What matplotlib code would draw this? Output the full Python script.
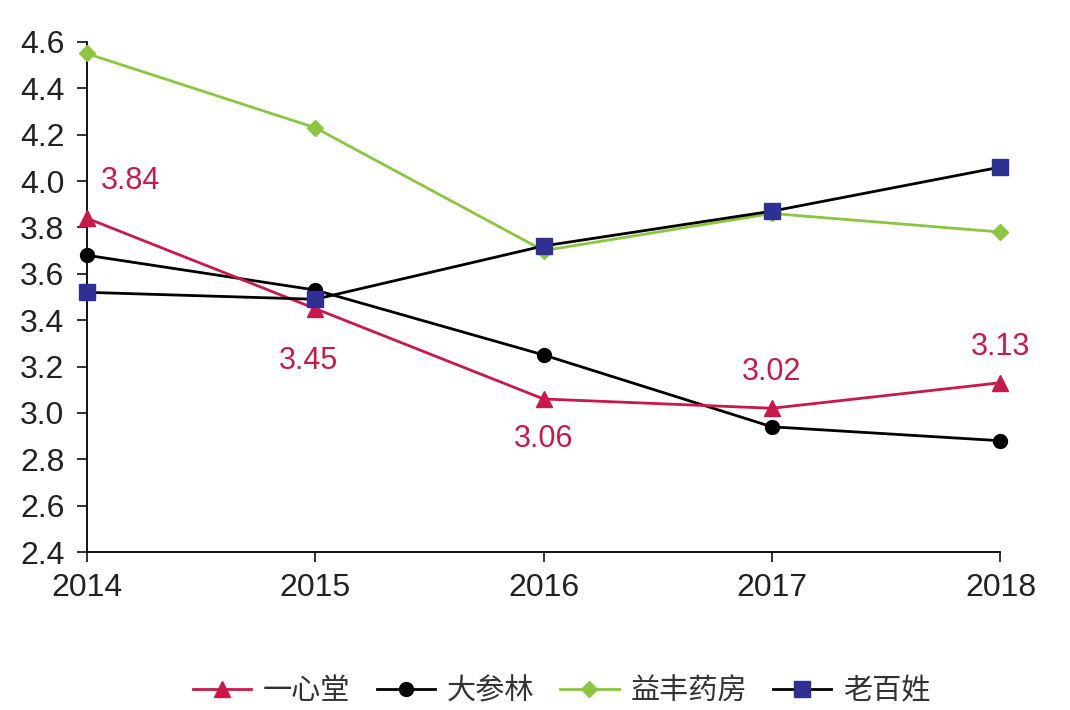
import numpy as np
import matplotlib.pyplot as plt

plt.rcParams['font.family'] = ['Liberation Sans', 'Noto Sans CJK SC', 'DejaVu Sans']

# ========================
# Datos
# ========================
years = [2014, 2015, 2016, 2017, 2018]
yixintang = [3.84, 3.45, 3.06, 3.02, 3.13]
dashenlin = [3.68, 3.53, 3.25, 2.94, 2.88]
yifeng = [4.55, 4.23, 3.70, 3.86, 3.78]
laobaixing = [3.52, 3.49, 3.72, 3.87, 4.06]
series_names = ["一心堂", "大参林", "益丰药房", "老百姓"]

red = "#c9184a"
green = "#8cc63f"
blue = "#2e3192"

fig = plt.figure(figsize=(10.7, 7.1), dpi=100)
ax = fig.add_axes([0.081, 0.2225, 0.854, 0.7185])

estilo = dict(lw=2.0, clip_on=False)
ax.plot(years, yixintang, color=red, marker="^", ms=12, label=series_names[0], zorder=5, **estilo)
ax.plot(years, dashenlin, color="black", marker="o", ms=10, label=series_names[1], zorder=4, **estilo)
ax.plot(years, yifeng, color=green, marker="D", ms=8, label=series_names[2], zorder=3, **estilo)
ax.plot(years, laobaixing, color="black", marker="s", ms=11,
        markerfacecolor=blue, markeredgecolor=blue, label=series_names[3], zorder=6, **estilo)

# etiquetas de 一心堂
offsets = [(10, 27), (-5, -38), (0, -29), (0, 26), (0, 26)]
for x, y, (dx, dy) in zip(years, yixintang, offsets):
    ax.annotate(f"{y:.2f}", (x, y), xytext=(dx, dy), textcoords="offset points",
                ha="left" if x == years[0] else "center", va="center",
                color=red, fontsize=22, clip_on=False)

ax.set_xlim(2014, 2018)
ax.set_ylim(2.4, 4.6)
ax.set_xticks(years)
ax.set_yticks(np.arange(2.4, 4.61, 0.2))
ax.yaxis.set_major_formatter(plt.FuncFormatter(lambda v, p: f"{v:.1f}"))
for s in ["top", "right"]:
    ax.spines[s].set_visible(False)
for s in ["left", "bottom"]:
    ax.spines[s].set_linewidth(1.3)
ax.tick_params(axis="both", labelsize=23, colors="#222222", length=7, width=1.3)
ax.tick_params(axis="x", pad=8)
ax.tick_params(axis="y", pad=9)

fig.legend(loc="lower center", bbox_to_anchor=(0.525, -0.032), ncol=4, frameon=False,
           handlelength=2.0, columnspacing=0.9, handletextpad=0.4,
           labelcolor="#333333", prop={'family': ['Noto Sans CJK SC', 'DejaVu Sans'], 'size': 21})

fig.savefig("out.png", dpi=100)
